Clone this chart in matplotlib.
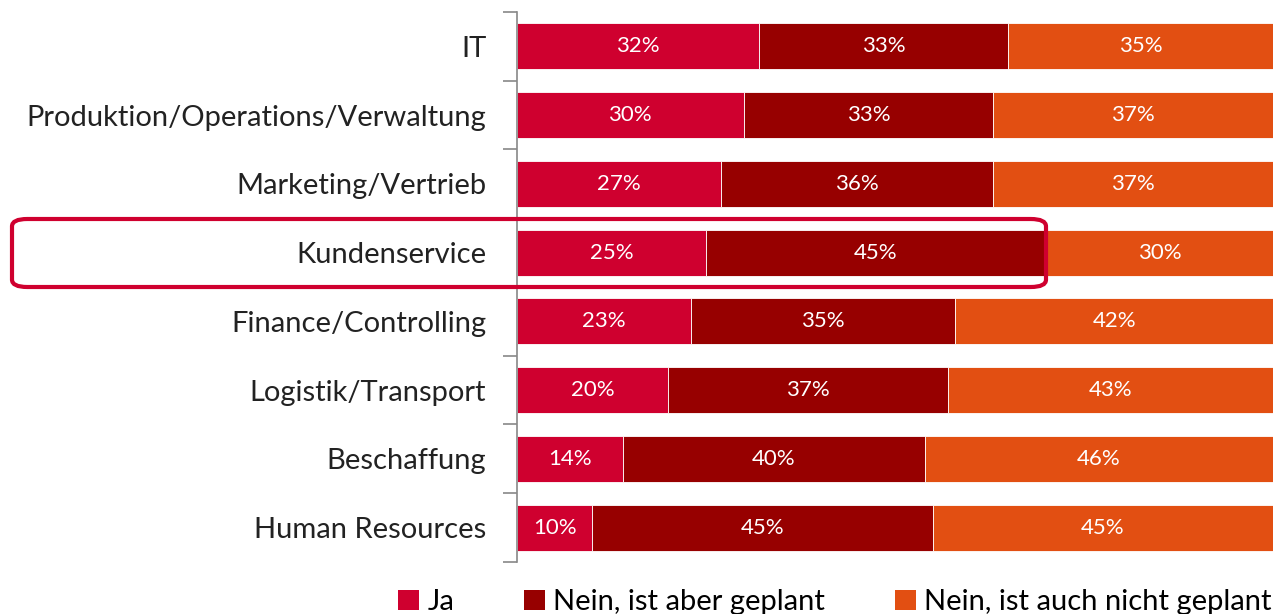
import matplotlib.pyplot as plt
from matplotlib.patches import FancyBboxPatch, Patch
import numpy as np

# Daten (von oben nach unten)
kategorien = ['IT', 'Produktion/Operations/Verwaltung', 'Marketing/Vertrieb', 'Kundenservice',
              'Finance/Controlling', 'Logistik/Transport', 'Beschaffung', 'Human Resources']
ja = [32, 30, 27, 25, 23, 20, 14, 10]
nein_geplant = [33, 33, 36, 45, 35, 37, 40, 45]
nein_nicht = [35, 37, 37, 30, 42, 43, 46, 45]
serien = ['Ja', 'Nein, ist aber geplant', 'Nein, ist auch nicht geplant']
farben = ['#CF002F', '#970000', '#E24F12']

plt.rcParams['font.family'] = ['Lato', 'DejaVu Sans']

fig = plt.figure(figsize=(12.73, 6.14), dpi=100)
ax = fig.add_axes([0.406, 0.0847, 0.594, 0.8958])

y = np.arange(len(kategorien))
links = np.zeros(len(kategorien))
for werte, farbe in zip([ja, nein_geplant, nein_nicht], farben):
    werte = np.array(werte)
    balken = ax.barh(y, werte, left=links, height=0.67, color=farbe,
                     edgecolor='white', linewidth=0.6)
    for b, w in zip(balken, werte):
        ax.text(b.get_x() + w / 2, b.get_y() + b.get_height() / 2, f'{w}%',
                ha='center', va='center', color='white', fontsize=16)
    links += werte

ax.set_xlim(0, 100)
ax.set_ylim(len(kategorien) - 0.5, -0.5)
ax.set_yticks(y)
ax.set_yticklabels(kategorien, fontsize=21, color='#222222')
ax.tick_params(axis='y', which='major', length=0, pad=22)
ax.set_yticks(np.arange(len(kategorien) + 1) - 0.5, minor=True)
ax.tick_params(axis='y', which='minor', length=10, width=1.2, color='#888888')
ax.set_xticks([])
for s in ['top', 'right', 'bottom']:
    ax.spines[s].set_visible(False)
ax.spines['left'].set_color('#888888')
ax.spines['left'].set_linewidth(1.2)

# Hervorhebung Kundenservice
rahmen = FancyBboxPatch((12 / 1273, 1 - 287 / 614), (1046 - 12) / 1273, (287 - 219) / 614,
                        boxstyle='round,pad=0,rounding_size=0.012', transform=fig.transFigure,
                        fill=False, edgecolor='#CF002F', linewidth=3, clip_on=False)
fig.patches.append(rahmen)

handles = [Patch(facecolor=f, edgecolor='none') for f in farben]
fig.legend(handles, serien, loc='lower center', bbox_to_anchor=(0.656, -0.045), ncol=3,
           frameon=False, fontsize=21, handlelength=0.7, handleheight=0.7,
           handletextpad=0.3, columnspacing=2.4)

plt.savefig('out.png', dpi=100)
